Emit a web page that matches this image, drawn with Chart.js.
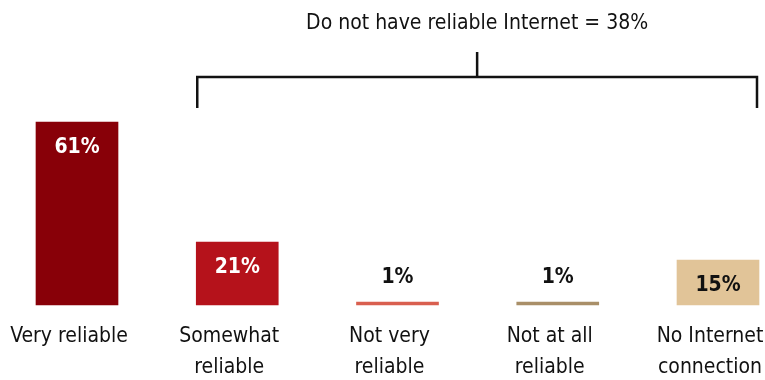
<!DOCTYPE html>
<html>
<head>
<meta charset="utf-8">
<script src="https://cdn.jsdelivr.net/npm/chart.js@4"></script>
<style>
  html, body { margin: 0; padding: 0; background: #fff; }
  #wrap { width: 765px; height: 380px; position: relative; }
</style>
</head>
<body>
<div id="wrap"><canvas id="reliabilityChart"></canvas></div>
<script>
// categories and shares (%)
const categories = [["Very reliable"], ["Somewhat", "reliable"], ["Not very", "reliable"], ["Not at all", "reliable"], ["No Internet", "connection"]];
const shares = [61, 21, 1, 1, 15];
const barColors = ["#880008", "#b5121b", "#d95f4f", "#a98f68", "#e1c498"];
const labelColors = ["#ffffff", "#ffffff", "#111111", "#111111", "#111111"];
const bracketText = "Do not have reliable Internet = 38%";
const bracketFrom = 1, bracketTo = 4;

const fontName = "'DejaVu Sans Condensed', 'Liberation Sans Narrow', sans-serif";

// value labels: inside the bar when it is tall enough, otherwise above it
const valueLabels = {
	id: 'valueLabels',
	afterDatasetsDraw(chart) {
		let ctx = chart.ctx;
		let meta = chart.getDatasetMeta(0);
		ctx.save();
		ctx.font = "bold 21px " + fontName;
		ctx.textAlign = "center";
		ctx.textBaseline = "middle";
		meta.data.forEach(function(bar, i) {
			let h = bar.base - bar.y;
			let y = h > 30 ? bar.y + 26 : bar.y - 24;
			ctx.fillStyle = labelColors[i];
			ctx.fillText(shares[i] + "%", bar.x, y);
		});
		ctx.restore();
	}
};

// bracket over the "not reliable" group with its caption
const groupBracket = {
	id: 'groupBracket',
	afterDraw(chart) {
		let ctx = chart.ctx;
		let meta = chart.getDatasetMeta(0);
		let a = meta.data[bracketFrom], b = meta.data[bracketTo];
		let x1 = a.x - a.width / 2 + 1;
		let x2 = b.x + b.width / 2 - 2;
		let top = chart.chartArea.top;
		let yLine = top - 45;
		let mid = (x1 + x2) / 2;
		ctx.save();
		ctx.strokeStyle = "#111";
		ctx.lineWidth = 2.5;
		ctx.beginPath();
		ctx.moveTo(x1, top - 14);
		ctx.lineTo(x1, yLine);
		ctx.lineTo(x2, yLine);
		ctx.lineTo(x2, top - 14);
		ctx.moveTo(mid, yLine);
		ctx.lineTo(mid, top - 70);
		ctx.stroke();
		ctx.fillStyle = "#111";
		ctx.font = "21px " + fontName;
		ctx.textAlign = "center";
		ctx.textBaseline = "middle";
		ctx.fillText(bracketText, mid, top - 98);
		ctx.restore();
	}
};

let ctx = document.getElementById('reliabilityChart').getContext('2d');
let reliabilityGraph = new Chart(ctx, {
	type: 'bar',
	data: {
		labels: categories,
		datasets: [{
			data: shares,
			backgroundColor: barColors,
			barThickness: 82,
			clip: false
		}]
	},
	options: {
		responsive: true,
		maintainAspectRatio: false,
		animation: false,
		layout: { padding: { left: 77, right: 47, top: 122, bottom: 0 } },
		plugins: {
			legend: { display: false },
			tooltip: { enabled: false }
		},
		scales: {
			x: {
				offset: false,
				grid: { display: false },
				border: { display: false },
				ticks: {
					color: "#111",
					maxRotation: 0,
					autoSkip: false,
					padding: 8,
					labelOffset: -8,
					font: { family: fontName, size: 21, lineHeight: 1.48 }
				},
				// labels may run past the plot edges; keep the plot area fixed
				afterFit: function(scale) {
					scale.paddingLeft = 0;
					scale.paddingRight = 0;
					scale.height = 75;
				}
			},
			y: {
				display: false,
				min: 0,
				max: 61
			}
		}
	},
	plugins: [valueLabels, groupBracket]
});
</script>
</body>
</html>
